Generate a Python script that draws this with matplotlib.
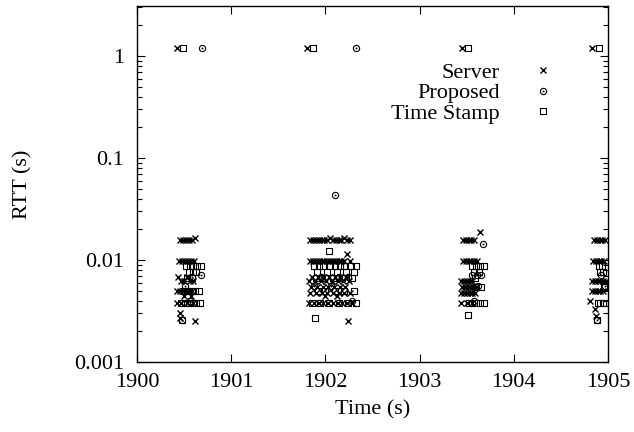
import matplotlib
matplotlib.use("Agg")
import matplotlib.pyplot as plt
from matplotlib.path import Path
from matplotlib.transforms import Affine2D
from matplotlib.ticker import FixedLocator, FuncFormatter, LogLocator, NullFormatter

plt.rcParams['font.family'] = ['Liberation Serif', 'DejaVu Serif']

# RTT samples, grouped as (rtt level, sample times)
server_rows = [
    (1.2,    [1900.43, 1901.80, 1903.45, 1904.83]),
    (0.0157, [1900.46, 1900.49, 1900.52, 1900.55, 1900.58,
              1901.84, 1901.87, 1901.90, 1901.93, 1901.96, 1901.99, 1902.02,
              1902.08, 1902.11, 1902.14, 1902.17, 1902.23, 1902.26,
              1903.46, 1903.49, 1903.52, 1903.55, 1903.58,
              1904.85, 1904.88, 1904.91, 1904.94, 1904.97]),
    (0.0163, [1900.62, 1902.05, 1902.20]),
    (0.019,  [1903.64]),
    (0.0115, [1902.23]),
    (0.0098, [1900.45, 1900.48, 1900.51, 1900.54, 1900.57, 1900.61,
              1901.84, 1901.87, 1901.90, 1901.93, 1901.96, 1901.99, 1902.02,
              1902.05, 1902.08, 1902.11, 1902.14, 1902.17, 1902.20, 1902.26,
              1903.46, 1903.49, 1903.52, 1903.55, 1903.58, 1903.61,
              1904.84, 1904.87, 1904.90, 1904.93, 1904.96]),
    (0.0068, [1900.44, 1900.53, 1901.86, 1901.92, 1901.98, 1902.04, 1902.10,
              1902.16, 1902.22]),
    (0.0062, [1900.47, 1900.50, 1900.56, 1900.59,
              1901.83, 1901.89, 1901.95, 1902.01, 1902.07, 1902.13, 1902.19, 1902.25,
              1903.44, 1903.47, 1903.50, 1903.53, 1903.56,
              1904.83, 1904.86, 1904.89, 1904.92, 1904.95, 1904.98]),
    (0.0054, [1901.85, 1901.91, 1901.97, 1902.03, 1902.09, 1902.15, 1902.21,
              1903.45, 1903.48, 1903.51, 1903.54, 1903.57, 1903.60]),
    (0.0050, [1900.43, 1900.46, 1900.49, 1900.52, 1900.55, 1900.58,
              1904.83, 1904.86, 1904.89, 1904.92, 1904.95]),
    (0.0047, [1901.84, 1901.90, 1901.96, 1902.02, 1902.08, 1902.14, 1902.20, 1902.26,
              1903.44, 1903.47, 1903.50, 1903.53, 1903.56, 1903.59]),
    (0.0044, [1900.50, 1900.57, 1902.00, 1902.12]),
    (0.0040, [1904.81]),
    (0.0038, [1900.43, 1900.47, 1900.53, 1900.60,
              1901.83, 1901.88, 1901.93, 1901.98, 1902.03, 1902.08, 1902.13,
              1902.18, 1902.23, 1902.28,
              1903.44, 1903.50, 1903.56]),
    (0.0033, [1904.86]),
    (0.0030, [1900.46]),
    (0.0028, [1904.87]),
    (0.0027, [1900.46]),
    (0.0025, [1900.62, 1902.24]),
]

proposed_rows = [
    (1.2,    [1900.69, 1902.32]),
    (0.043,  [1902.10]),
    (0.0145, [1903.67]),
    (0.0072, [1900.68, 1903.56, 1903.61, 1903.65, 1904.93]),
    (0.0068, [1900.58, 1901.95, 1902.14, 1902.24]),
    (0.0056, [1900.51, 1901.88, 1902.06, 1903.62, 1904.97]),
    (0.0040, [1900.56, 1902.28, 1903.58]),
    (0.0026, [1900.48, 1904.88]),
]

stamp_rows = [
    (1.2,    [1900.49, 1901.87, 1903.51, 1904.90]),
    (0.0123, [1902.04]),
    (0.0088, [1900.52, 1900.56, 1900.60, 1900.64, 1900.68,
              1901.88, 1901.93, 1901.98, 1902.05, 1902.10, 1902.15, 1902.20,
              1902.27, 1902.32,
              1903.56, 1903.60, 1903.64, 1903.68, 1904.90, 1904.94]),
    (0.0076, [1900.55, 1900.59, 1900.63, 1901.91, 1902.02, 1902.12, 1902.22,
              1902.30, 1903.58, 1903.63, 1904.91, 1904.95]),
    (0.0066, [1900.53, 1900.58, 1901.90, 1901.96, 1902.08, 1902.18, 1902.28,
              1903.59]),
    (0.0055, [1903.60, 1903.65, 1904.96]),
    (0.0050, [1900.50, 1900.54, 1900.58, 1900.62, 1900.66,
              1901.92, 1902.00, 1902.10, 1902.20, 1902.30]),
    (0.0038, [1900.47, 1900.51, 1900.55, 1900.59, 1900.63, 1900.67,
              1901.86, 1901.94, 1902.04, 1902.14, 1902.24, 1902.33,
              1903.52, 1903.56, 1903.60, 1903.64, 1903.68,
              1904.89, 1904.92, 1904.95, 1904.98]),
    (0.0029, [1903.51]),
    (0.0027, [1901.89]),
    (0.0026, [1900.48, 1904.88]),
]


def unpack(rows):
    t, rtt = [], []
    for level, times in rows:
        t += times
        rtt += [level] * len(times)
    return t, rtt


server_t, server_rtt = unpack(server_rows)
proposed_t, proposed_rtt = unpack(proposed_rows)
stamp_t, stamp_rtt = unpack(stamp_rows)

# boxed-dot and circled-dot point types
dot = Path.unit_rectangle().transformed(Affine2D().translate(-0.5, -0.5).scale(0.12))
box = Path.unit_rectangle().transformed(Affine2D().translate(-0.5, -0.5))
box_dot = Path.make_compound_path(box, dot)
circle_dot = Path.make_compound_path(
    Path.unit_circle().transformed(Affine2D().scale(0.5)), dot)

fig = plt.figure(figsize=(6.34, 4.32), dpi=100)
ax = fig.add_axes([0.216, 0.162, 0.743, 0.824])

ax.plot(server_t, server_rtt, ls='none', marker='x', ms=4.2, mew=1.0,
        color='black', label='Server')
ax.plot(proposed_t, proposed_rtt, ls='none', marker=circle_dot, ms=4.5, mew=0.8,
        mfc='none', color='black', label='Proposed')
ax.plot(stamp_t, stamp_rtt, ls='none', marker=box_dot, ms=4.5, mew=0.8,
        mfc='none', color='black', label='Time Stamp')

ax.set_yscale('log')
ax.set_xlim(1900, 1905)
ax.set_ylim(0.001, 3.1)

ax.xaxis.set_major_locator(FixedLocator([1900, 1901, 1902, 1903, 1904, 1905]))
ax.xaxis.set_major_formatter(FuncFormatter(lambda v, p: '%d' % round(v)))
ax.yaxis.set_major_locator(FixedLocator([0.001, 0.01, 0.1, 1]))
ax.yaxis.set_major_formatter(FuncFormatter(lambda v, p: '%g' % v))
ax.yaxis.set_minor_locator(LogLocator(base=10, subs=range(2, 10)))
ax.yaxis.set_minor_formatter(NullFormatter())

ax.tick_params(which='both', direction='in', top=True, right=True,
               labelsize=16, width=0.8)
ax.tick_params(which='major', length=6)
ax.tick_params(which='minor', length=3.5)
ax.tick_params(axis='x', pad=8)
ax.tick_params(axis='y', pad=9)
for s in ax.spines.values():
    s.set_linewidth(1.0)

ax.set_xlabel('Time (s)', fontsize=16, labelpad=6)
ax.set_ylabel('RTT (s)', fontsize=16, labelpad=30)

ax.legend(loc='upper right', bbox_to_anchor=(0.898, 0.842), markerfirst=False,
          frameon=False, fontsize=16, handlelength=1.5, handletextpad=1.2,
          labelspacing=0.0, borderpad=0, borderaxespad=0, numpoints=1)

fig.savefig('out.png', dpi=100)
